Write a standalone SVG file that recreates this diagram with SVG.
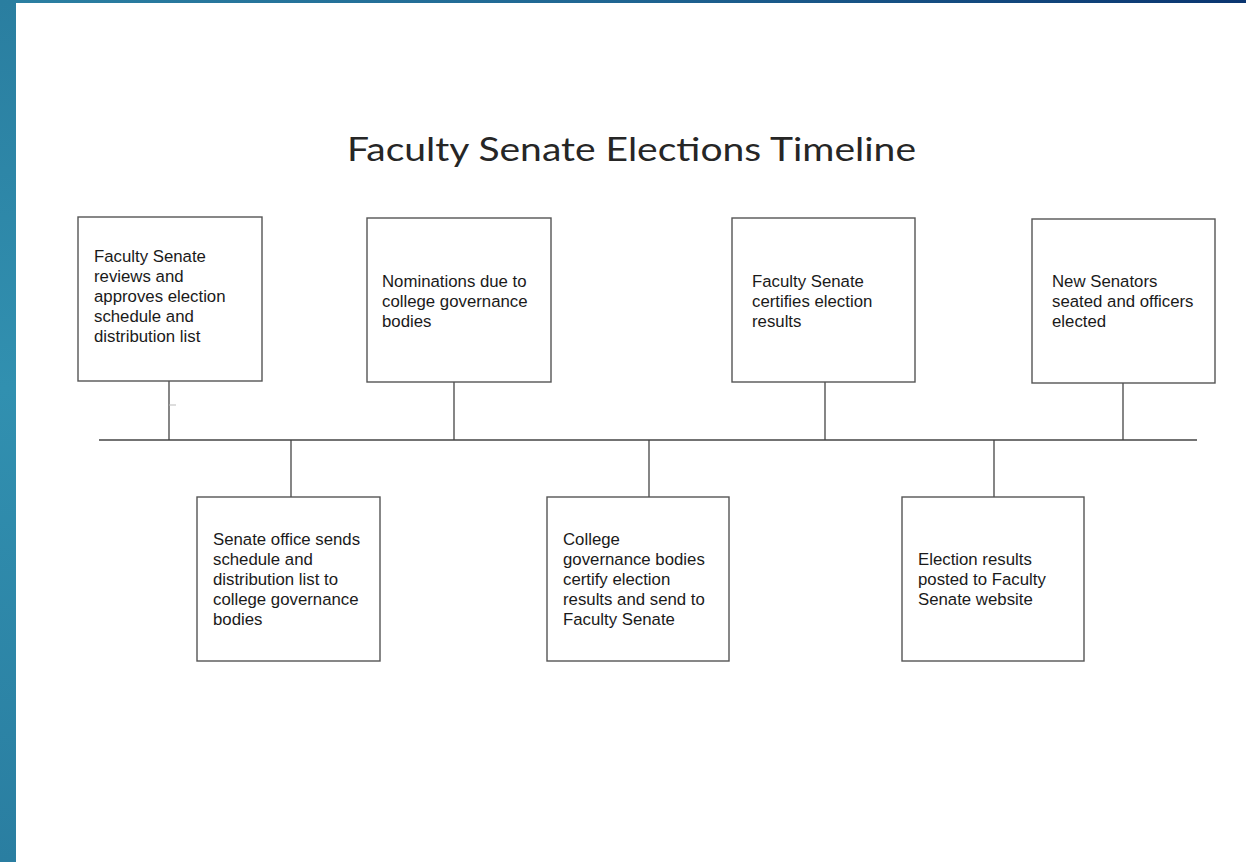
<svg xmlns="http://www.w3.org/2000/svg" width="1246" height="862" viewBox="0 0 1246 862">
  <defs>
    <linearGradient id="topband" x1="0" y1="0" x2="1" y2="0">
      <stop offset="0" stop-color="#2b80a2"/>
      <stop offset="0.5" stop-color="#1f6592"/>
      <stop offset="1" stop-color="#0a3570"/>
    </linearGradient>
    <linearGradient id="leftband" x1="0" y1="0" x2="0" y2="1">
      <stop offset="0" stop-color="#2a7ea0"/>
      <stop offset="0.45" stop-color="#3190b0"/>
      <stop offset="1" stop-color="#2a7ea1"/>
    </linearGradient>
    <style>
      .box { fill: #ffffff; stroke: #555555; stroke-width: 1.4; }
      .lbl { font-family: "Liberation Sans", Arial, sans-serif; font-size: 16.8px; fill: #1a1a1a; }
      .title { font-family: Lato, "Open Sans", sans-serif; font-size: 33px; fill: #262626; }
      .conn line { stroke: #444444; stroke-width: 1.3; }
    </style>
  </defs>

  <rect x="0" y="0" width="1246" height="862" fill="#ffffff"/>
  <rect x="0" y="0" width="1246" height="3" fill="url(#topband)"/>
  <rect x="0" y="0" width="16" height="862" fill="url(#leftband)"/>

  <text class="title" x="347" y="161" textLength="569" lengthAdjust="spacingAndGlyphs">Faculty Senate Elections Timeline</text>

  <g id="connectors" class="conn">
    <line x1="99" y1="440" x2="1197" y2="440"/>
    <line x1="169" y1="381" x2="169" y2="440"/>
    <line x1="454" y1="382" x2="454" y2="440"/>
    <line x1="825" y1="382" x2="825" y2="440"/>
    <line x1="1123" y1="383" x2="1123" y2="440"/>
    <line x1="291" y1="440" x2="291" y2="497"/>
    <line x1="649" y1="440" x2="649" y2="497"/>
    <line x1="994" y1="440" x2="994" y2="497"/>
    <line x1="169" y1="405" x2="176" y2="405" style="stroke:#bbbbbb;stroke-width:1"/>
  </g>

  <g id="node-review">
    <rect class="box" x="78" y="217" width="184" height="164"/>
    <text class="lbl" x="94" y="262">Faculty Senate</text>
    <text class="lbl" x="94" y="282">reviews and</text>
    <text class="lbl" x="94" y="302">approves election</text>
    <text class="lbl" x="94" y="322">schedule and</text>
    <text class="lbl" x="94" y="342">distribution list</text>
  </g>

  <g id="node-send">
    <rect class="box" x="197" y="497" width="183" height="164"/>
    <text class="lbl" x="213" y="545">Senate office sends</text>
    <text class="lbl" x="213" y="565">schedule and</text>
    <text class="lbl" x="213" y="585">distribution list to</text>
    <text class="lbl" x="213" y="605">college governance</text>
    <text class="lbl" x="213" y="625">bodies</text>
  </g>

  <g id="node-nominations">
    <rect class="box" x="367" y="218" width="184" height="164"/>
    <text class="lbl" x="382" y="287">Nominations due to</text>
    <text class="lbl" x="382" y="307">college governance</text>
    <text class="lbl" x="382" y="327">bodies</text>
  </g>

  <g id="node-college-certify">
    <rect class="box" x="547" y="497" width="182" height="164"/>
    <text class="lbl" x="563" y="545">College</text>
    <text class="lbl" x="563" y="565">governance bodies</text>
    <text class="lbl" x="563" y="585">certify election</text>
    <text class="lbl" x="563" y="605">results and send to</text>
    <text class="lbl" x="563" y="625">Faculty Senate</text>
  </g>

  <g id="node-senate-certify">
    <rect class="box" x="732" y="218" width="183" height="164"/>
    <text class="lbl" x="752" y="287">Faculty Senate</text>
    <text class="lbl" x="752" y="307">certifies election</text>
    <text class="lbl" x="752" y="327">results</text>
  </g>

  <g id="node-posted">
    <rect class="box" x="902" y="497" width="182" height="164"/>
    <text class="lbl" x="918" y="565">Election results</text>
    <text class="lbl" x="918" y="585">posted to Faculty</text>
    <text class="lbl" x="918" y="605">Senate website</text>
  </g>

  <g id="node-seated">
    <rect class="box" x="1032" y="219" width="183" height="164"/>
    <text class="lbl" x="1052" y="287">New Senators</text>
    <text class="lbl" x="1052" y="307">seated and officers</text>
    <text class="lbl" x="1052" y="327">elected</text>
  </g>
</svg>
